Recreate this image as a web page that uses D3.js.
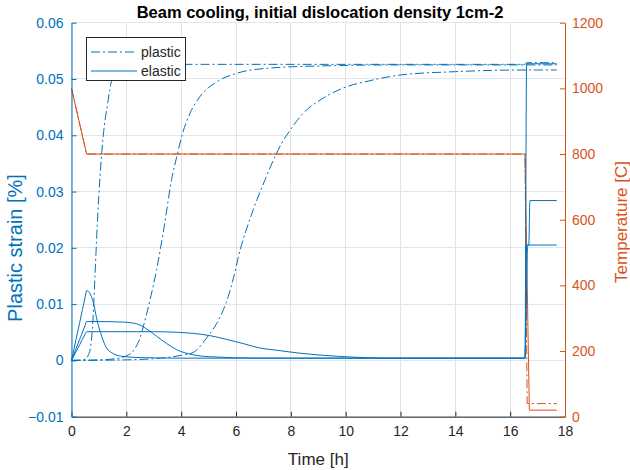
<!DOCTYPE html>
<meta charset="utf-8">
<style>
body { margin: 0; background: #fff; }
svg { font-family: "Liberation Sans", Arial, sans-serif; }
.grid line { shape-rendering: crispEdges; }
.axis path { fill: none; }
.axis text { font-size: 14px; }
.title { font-size: 16.5px; font-weight: bold; fill: #000; }
.label { font-size: 17px; }
.legend text { font-size: 14px; fill: #262626; }
</style>
<svg width="630" height="470"></svg>
<script src="https://d3js.org/d3.v7.min.js"></script>
<script>

var blue = "#0072BD", orange = "#D95319", dark = "#262626";

// tick values
var timeTicks = [0, 2, 4, 6, 8, 10, 12, 14, 16, 18];
var strainTicks = [-0.01, 0, 0.01, 0.02, 0.03, 0.04, 0.05, 0.06];
var tempTicks = [0, 200, 400, 600, 800, 1000, 1200];

// plastic strain [h, %]
var plasticA = [[0, 0], [0.3, 0.00005], [0.5, 0.0002], [0.6, 0.0008], [0.7, 0.0025], [0.78, 0.007],
  [0.86, 0.0155], [0.95, 0.025], [1.04, 0.0327], [1.16, 0.040], [1.32, 0.0457], [1.47, 0.0498],
  [1.7, 0.0516], [2.0, 0.0522], [2.6, 0.0525], [4, 0.0526], [16.54, 0.0526], [16.6, 0.0529], [17.7, 0.0529]];
var plasticB = [[0, 0], [1, 0.0001], [1.6, 0.0003], [2.0, 0.0008], [2.3, 0.002], [2.5, 0.004],
  [2.7, 0.0075], [2.9, 0.0115], [3.1, 0.016], [3.37, 0.0235], [3.65, 0.0321], [3.86, 0.0366],
  [4.02, 0.0398], [4.32, 0.0439], [4.69, 0.0469], [5.3, 0.0495], [6.02, 0.051], [7.12, 0.0519],
  [8.94, 0.0523], [12, 0.0525], [16.54, 0.0525], [17.7, 0.0525]];
var plasticC = [[0, 0], [2, 0.0001], [3.23, 0.0004], [4.0, 0.0009], [4.44, 0.0014], [4.93, 0.004],
  [5.3, 0.0066], [5.54, 0.009], [5.72, 0.0114], [5.9, 0.0145], [6.15, 0.0196], [6.5, 0.025],
  [7.06, 0.0321], [7.46, 0.0366], [7.67, 0.0386], [8.03, 0.0413], [8.45, 0.0439], [9.18, 0.0466],
  [9.91, 0.0484], [10.89, 0.0497], [11.98, 0.0507], [14, 0.0513], [16.54, 0.0516], [17.7, 0.0516]];

// elastic strain [h, %]
var elasticA = [[0, 0], [0.3, 0.00676], [0.5, 0.0113], [0.55, 0.0124], [0.62, 0.0123], [0.7, 0.0116],
  [0.8, 0.0102], [0.92, 0.0074], [1.1, 0.0043], [1.28, 0.0022], [1.53, 0.0012], [1.89, 0.0007],
  [2.5, 0.0005], [4, 0.0004], [16.54, 0.0004], [16.6, 0.0527], [17.7, 0.0527]];
var elasticB = [[0, 0], [0.3, 0.00376], [0.5, 0.00627], [0.55, 0.0069], [1, 0.0069], [1.9, 0.0068],
  [2.38, 0.0065], [2.74, 0.0056], [3.1, 0.0043], [3.47, 0.0030], [3.84, 0.0019], [4.44, 0.001],
  [5.05, 0.00065], [6.87, 0.0004], [16.54, 0.0004], [16.6, 0.0205], [16.68, 0.0205], [16.72, 0.0284], [17.7, 0.0284]];
var elasticC = [[0, 0], [0.3, 0.0028], [0.5, 0.0047], [0.55, 0.0051], [1, 0.0051], [3, 0.0051],
  [3.84, 0.0050], [5.05, 0.0044], [5.6, 0.0038], [6.26, 0.0030], [6.87, 0.0022], [7.5, 0.0018],
  [8.3, 0.0013], [9.2, 0.0009], [10.2, 0.0006], [11.5, 0.0004], [16.54, 0.0004], [16.64, 0.0205], [17.7, 0.0205]];

// temperature [h, C]
var tempSolid = [[0, 1000], [0.55, 800], [16.54, 800], [16.7, 20], [17.7, 20]];
var tempDashed = [[0, 1000], [0.55, 800], [16.54, 800], [16.62, 40], [17.7, 40]];

var svg = d3.select("svg"),
    margin = {top: 22.7, right: 65, bottom: 53.3, left: 71.5},
    width = svg.attr("width") - margin.left - margin.right,
    height = svg.attr("height") - margin.top - margin.bottom;

var x = d3.scaleLinear().domain([0, 18]).range([0, width]);
var y = d3.scaleLinear().domain([-0.01, 0.06]).range([height, 0]);
var y2 = d3.scaleLinear().domain([0, 1200]).range([height, 0]);

var g = svg.append("g")
    .attr("transform", "translate(" + margin.left + "," + margin.top + ")");

// grid
var grid = g.append("g").attr("class", "grid");
grid.selectAll(".gx").data(timeTicks).enter().append("line")
    .attr("x1", function(d) { return x(d); }).attr("x2", function(d) { return x(d); })
    .attr("y1", 0).attr("y2", height)
    .attr("stroke", "#e2e2e2");
grid.selectAll(".gy").data(strainTicks).enter().append("line")
    .attr("x1", 0).attr("x2", width)
    .attr("y1", function(d) { return y(d); }).attr("y2", function(d) { return y(d); })
    .attr("stroke", "#dde7f0");

var dashDot = "9,3,2,3";

var lineS = d3.line()
    .x(function(d) { return x(d[0]); })
    .y(function(d) { return y(d[1]); })
    .curve(d3.curveMonotoneX);

var lineT = d3.line()
    .x(function(d) { return x(d[0]); })
    .y(function(d) { return y2(d[1]); });

// temperature
g.append("path").datum(tempDashed)
    .attr("d", lineT).attr("fill", "none")
    .attr("stroke", orange).attr("stroke-width", 1).attr("stroke-dasharray", dashDot);
g.append("path").datum(tempSolid)
    .attr("d", lineT).attr("fill", "none")
    .attr("stroke", orange).attr("stroke-width", 1);

// strains
[plasticA, plasticB, plasticC].forEach(function(s) {
  g.append("path").datum(s)
      .attr("d", lineS).attr("fill", "none")
      .attr("stroke", blue).attr("stroke-width", 1).attr("stroke-dasharray", dashDot);
});
[elasticA, elasticB, elasticC].forEach(function(s) {
  g.append("path").datum(s)
      .attr("d", lineS).attr("fill", "none")
      .attr("stroke", blue).attr("stroke-width", 1);
});

// axes
var xAxis = g.append("g")
    .attr("class", "axis")
    .attr("transform", "translate(0," + height + ")")
    .call(d3.axisBottom(x).tickValues(timeTicks).tickSize(-5).tickPadding(9).tickSizeOuter(0));
xAxis.select(".domain").attr("stroke", dark);
xAxis.selectAll(".tick line").attr("stroke", dark);
xAxis.selectAll("text").attr("fill", dark);

var yAxis = g.append("g")
    .attr("class", "axis")
    .call(d3.axisLeft(y).tickValues(strainTicks)
      .tickFormat(function(d) { return d === 0 ? "0" : d3.format(".2f")(d); })
      .tickSize(-5).tickPadding(8).tickSizeOuter(0));
yAxis.select(".domain").attr("stroke", blue);
yAxis.selectAll(".tick line").attr("stroke", blue);
yAxis.selectAll("text").attr("fill", blue);

var y2Axis = g.append("g")
    .attr("class", "axis")
    .attr("transform", "translate(" + width + ",0)")
    .call(d3.axisRight(y2).tickValues(tempTicks).tickFormat(d3.format("d"))
      .tickSize(-5).tickPadding(7).tickSizeOuter(0));
y2Axis.select(".domain").attr("stroke", orange);
y2Axis.selectAll(".tick line").attr("stroke", orange);
y2Axis.selectAll("text").attr("fill", orange);

// labels
svg.append("text")
    .attr("class", "title")
    .attr("x", 320).attr("y", 18)
    .attr("text-anchor", "middle")
    .text("Beam cooling, initial dislocation density 1cm-2");

svg.append("text")
    .attr("class", "label")
    .attr("x", margin.left + width / 2).attr("y", 465)
    .attr("text-anchor", "middle")
    .attr("fill", dark)
    .text("Time [h]");

svg.append("text")
    .attr("class", "label")
    .attr("transform", "translate(22,248) rotate(-90)")
    .attr("text-anchor", "middle")
    .style("font-size", "20px")
    .attr("fill", blue)
    .text("Plastic strain [%]");

svg.append("text")
    .attr("class", "label")
    .attr("transform", "translate(627,222) rotate(-90)")
    .attr("text-anchor", "middle")
    .attr("fill", orange)
    .text("Temperature [C]");

// legend
var legend = svg.append("g").attr("class", "legend");
legend.append("rect")
    .attr("x", 86.5).attr("y", 37.5).attr("width", 99).attr("height", 43)
    .attr("fill", "#fff").attr("stroke", dark).attr("stroke-width", 1);

var legendItems = [{name: "plastic", dash: dashDot}, {name: "elastic", dash: null}];
var li = legend.selectAll(".item").data(legendItems).enter().append("g")
    .attr("transform", function(d, i) { return "translate(91," + (52 + i * 19) + ")"; });
li.append("line")
    .attr("x1", 0).attr("x2", 46)
    .attr("stroke", blue).attr("stroke-width", 1)
    .attr("stroke-dasharray", function(d) { return d.dash; });
li.append("text")
    .attr("x", 50).attr("dy", "0.35em")
    .text(function(d) { return d.name; });

</script>
